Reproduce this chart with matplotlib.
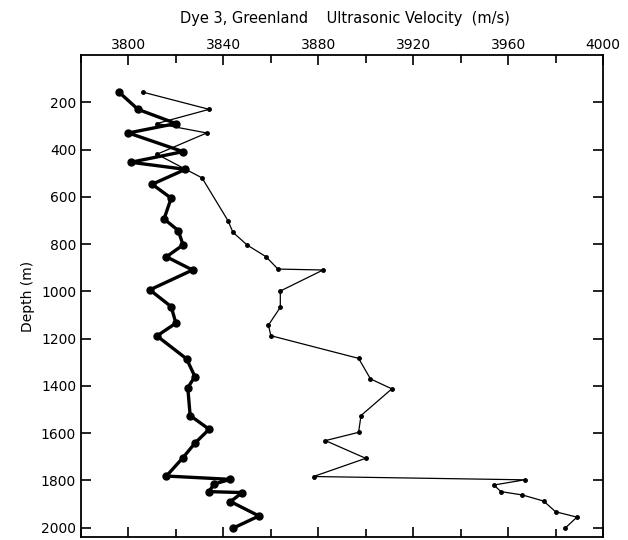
import numpy as np
import matplotlib.pyplot as plt
from matplotlib.ticker import MultipleLocator

# thick curve (velocity, depth)
thick_v = [3796, 3804, 3820, 3800, 3823, 3801, 3824, 3810, 3818, 3815, 3821, 3823,
           3816, 3827, 3809, 3818, 3820, 3812, 3824.5, 3828, 3825, 3826, 3834,
           3828, 3823, 3816, 3843, 3836, 3834, 3848, 3843, 3855, 3844]
thick_d = [157, 230, 290, 330, 409, 454, 484, 547, 606, 694, 743, 804,
           854, 910, 994, 1065, 1135, 1189, 1286, 1361, 1408, 1526, 1584,
           1643, 1704, 1782, 1796, 1816, 1848, 1852, 1890, 1951, 2003]

# thin curve
thin_v = [3806, 3834, 3812, 3833, 3812, 3831, 3842, 3844, 3850, 3858, 3863, 3882,
          3864, 3864, 3859, 3860, 3897, 3902, 3911, 3898, 3897, 3883, 3900,
          3878, 3967, 3954, 3957, 3966, 3975, 3980, 3989, 3984]
thin_d = [157, 230, 290, 330, 420, 520, 702, 750, 804, 854, 906, 910,
          999, 1068, 1143, 1188, 1284, 1371, 1413, 1526, 1597, 1632, 1707,
          1784, 1798, 1820, 1848, 1862, 1888, 1933, 1956, 2003]


def main():
    fig = plt.figure(figsize=(6.28, 5.40), dpi=100)
    ax = fig.add_axes([81 / 628, 1 - 537 / 540, 522 / 628, 482 / 540])

    ax.plot(thin_v, thin_d, '-o', color='black', lw=0.9, ms=2.5)
    ax.plot(thick_v, thick_d, '-o', color='black', lw=2.4, ms=5)

    ax.set_xlim(3780, 4000)
    ax.set_ylim(2040, 0)
    ax.xaxis.tick_top()
    ax.xaxis.set_major_locator(MultipleLocator(40))
    ax.xaxis.set_minor_locator(MultipleLocator(20))
    ax.set_yticks(range(200, 2001, 200))
    ax.tick_params(which='both', direction='in', top=True, bottom=True,
                   right=True, left=True, labelsize=10, width=1.2)
    ax.tick_params(which='major', length=7)
    ax.tick_params(which='minor', length=6)
    ax.tick_params(axis='x', pad=2)
    for s in ax.spines.values():
        s.set_linewidth(1.3)

    ax.set_ylabel('Depth (m)', fontsize=10)
    fig.text(0.55, 0.965, 'Dye 3, Greenland    Ultrasonic Velocity  (m/s)',
             ha='center', va='center', fontsize=10.5)

    fig.savefig('out.png', dpi=100)


if __name__ == "__main__":
    main()
